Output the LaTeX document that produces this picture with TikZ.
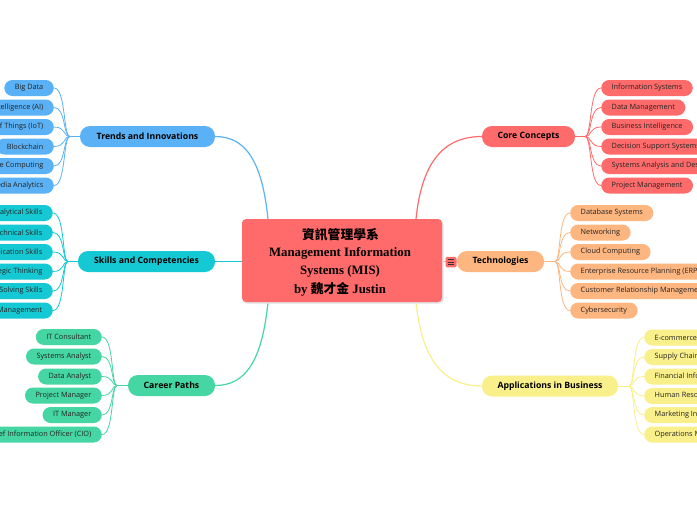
\documentclass[tikz,border=0pt]{standalone}
\usepackage{fontspec}
\setmainfont{Liberation Serif}
\newfontfamily\leaffont{Open Sans}
\newfontfamily\cjkfont{Noto Sans CJK TC}
\usetikzlibrary{calc}
\definecolor{cblue}{HTML}{5BB1F5}
\definecolor{ccyan}{HTML}{14C9D3}
\definecolor{cgreen}{HTML}{46D6A4}
\definecolor{cred}{HTML}{FF6B6B}
\definecolor{corange}{HTML}{FDB680}
\definecolor{cyellow}{HTML}{F9F08C}
\definecolor{ctext}{HTML}{222222}
\tikzset{
  leafbox/.style={fill=#1, rounded corners=8pt, minimum height=16pt, inner xsep=10.5pt, inner ysep=0pt,
    font=\leaffont\fontsize{7.3}{8}\selectfont, text=ctext},
  branchbox/.style={fill=#1, rounded corners=10pt, minimum height=21pt, inner xsep=14pt, inner ysep=0pt,
    font=\leaffont\bfseries\fontsize{8.7}{10}\selectfont, text=black},
  leaflink/.style={draw=#1, line width=0.8pt},
  mainlink/.style={draw=#1, line width=1.2pt},
  centertext/.style={font=\bfseries\fontsize{12.8}{14}\selectfont},
}
\begin{document}
\begin{tikzpicture}[x=1pt,y=-1pt]
\useasboundingbox (0,0) rectangle (697,520);
\clip (0,0) rectangle (697,520);
\fill[white] (0,0) rectangle (697,520);

% ---------- main connectors ----------
\coordinate (ctop1) at (268,219);
\coordinate (cbot1) at (268,302);
\coordinate (ctop2) at (416,219);
\coordinate (cbot2) at (416,302);
\coordinate (cleft) at (242,261.5);
\coordinate (cright) at (442,261.5);

% ---------- branches ----------
\node[branchbox=cblue, minimum width=135pt] (trends) at (147.5,136.5) {Trends and Innovations};
\node[branchbox=ccyan, minimum width=137pt] (skills) at (146.5,261.5) {Skills and Competencies};
\node[branchbox=cgreen, minimum width=87pt] (career) at (171.5,385.5) {Career Paths};
\node[branchbox=cred, minimum width=93pt] (core) at (528.5,136.5) {Core Concepts};
\node[branchbox=corange, minimum width=87pt] (tech) at (500.5,261.5) {Technologies};
\node[branchbox=cyellow, minimum width=136pt] (apps) at (550,386) {Applications in Business};

\draw[mainlink=cblue] (ctop1) .. controls (262,160) and (245,136.5) .. (trends.east);
\draw[mainlink=ccyan] (cleft) -- (skills.east);
\draw[mainlink=cgreen] (cbot1) .. controls (262,362) and (245,385.5) .. (career.east);
\draw[mainlink=cred] (ctop2) .. controls (422,160) and (445,136.5) .. (core.west);
\draw[mainlink=cyellow] (cbot2) .. controls (422,362) and (445,386) .. (apps.west);
\draw[mainlink=corange] (cright) -- (tech.west);

% ---------- center ----------
\fill[black!12, rounded corners=4pt] (243,220.5) rectangle (443.5,303.5);
\node[fill=cred, rounded corners=4pt, minimum width=200pt, minimum height=83pt, inner sep=0pt] (center) at (342,260.5) {};
\node[font=\cjkfont\bfseries\fontsize{12.8}{14}\selectfont] (t1) at (340.5,235) {資訊管理學系};
\node[centertext] (t2) at (340,253.5) {Management Information};
\node[centertext] (t3) at (340,271.5) {Systems (MIS)};
\node[centertext] (t4) at (340,289.5) {by {\cjkfont 魏才金} Justin};

% ---------- icon ----------
\node[fill=cred, rounded corners=1.5pt, minimum width=11pt, minimum height=10.5pt, inner sep=0pt] (icon) at (451,262) {};
\foreach \yy in {-2.5,0,2.5} \draw[black!80, line width=0.9pt] ($(icon.center)+(-3,\yy)$) -- ($(icon.center)+(3,\yy)$);

% ---------- left leaves ----------
% Trends
\coordinate (jt) at (70,136.5);
\draw[leaflink=cblue] (trends.west) -- (jt);
\foreach \n/\yy/\txt in {a/88/Big Data, b/107.5/Artificial Intelligence (AI), c/127/Internet of Things (IoT), d/146.5/Blockchain, e/166/Edge Computing, f/185.5/Social Media Analytics}{
  \node[leafbox=cblue, anchor=east] (tr\n) at (54,\yy) {\txt};
  \draw[leaflink=cblue] (tr\n.east) .. controls (66,\yy) and (63,136.5) .. (jt);
}
% Skills
\coordinate (js) at (68,261.5);
\draw[leaflink=ccyan] (skills.west) -- (js);
\foreach \n/\yy/\txt in {a/213/Analytical Skills, b/232.5/Technical Skills, c/252/Communication Skills, d/271.5/Strategic Thinking, e/291/Problem-Solving Skills, f/310.5/Time Management}{
  \node[leafbox=ccyan, anchor=east] (sk\n) at (53,\yy) {\txt};
  \draw[leaflink=ccyan] (sk\n.east) .. controls (65,\yy) and (62,261.5) .. (js);
}
% Career
\coordinate (jc) at (117,385.5);
\draw[leaflink=cgreen] (career.west) -- (jc);
\foreach \n/\yy/\txt in {a/337/IT Consultant, b/356.5/Systems Analyst, c/376.5/Data Analyst, d/395.5/Project Manager, e/415/IT Manager, f/434.5/Chief Information Officer (CIO)}{
  \node[leafbox=cgreen, anchor=east] (ca\n) at (102,\yy) {\txt};
  \draw[leaflink=cgreen] (ca\n.east) .. controls (114,\yy) and (111,385.5) .. (jc);
}

% ---------- right leaves ----------
% Core
\coordinate (jr) at (585,136.5);
\draw[leaflink=cred] (core.east) -- (jr);
\foreach \n/\yy/\txt in {a/88/Information Systems, b/107.5/Data Management, c/127/Business Intelligence, d/146.5/Decision Support Systems, e/166/Systems Analysis and Design, f/185.5/Project Management}{
  \node[leafbox=cred, anchor=west] (co\n) at (601,\yy) {\txt};
  \draw[leaflink=cred] (co\n.west) .. controls (589,\yy) and (592,136.5) .. (jr);
}
% Technologies
\coordinate (jte) at (555,261.5);
\draw[leaflink=corange] (tech.east) -- (jte);
\foreach \n/\yy/\txt in {a/213/Database Systems, b/232.5/Networking, c/252/Cloud Computing, d/271.5/Enterprise Resource Planning (ERP), e/291/Customer Relationship Management (CRM), f/310.5/Cybersecurity}{
  \node[leafbox=corange, anchor=west] (te\n) at (570,\yy) {\txt};
  \draw[leaflink=corange] (te\n.west) .. controls (558,\yy) and (561,261.5) .. (jte);
}
% Applications
\coordinate (ja) at (629,386);
\draw[leaflink=cyellow] (apps.east) -- (ja);
\foreach \n/\yy/\txt in {a/337.5/E-commerce, b/357/Supply Chain Management, c/376.5/Financial Information Systems, d/396/Human Resource Management, e/415/Marketing Information Systems, f/434.5/Operations Management}{
  \node[leafbox=cyellow, anchor=west] (ap\n) at (644,\yy) {\txt};
  \draw[leaflink=cyellow] (ap\n.west) .. controls (632,\yy) and (635,386) .. (ja);
}
\end{tikzpicture}
\end{document}
